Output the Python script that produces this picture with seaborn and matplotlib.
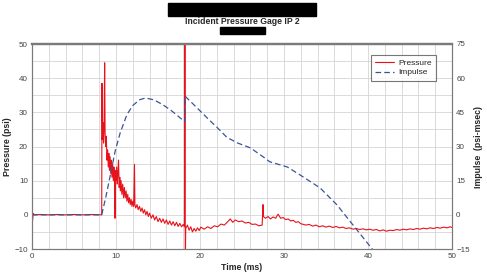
import matplotlib
matplotlib.use("Agg")
import matplotlib.pyplot as plt
import seaborn as sns
import pandas as pd
from matplotlib.patches import Rectangle
from matplotlib.ticker import MultipleLocator

# ---- data ----
time_p = [0.0, 0.05, 0.15, 0.3, 1.0, 2.0, 3.0, 4.0, 5.0, 6.0, 7.0, 8.0, 8.3,
          8.33, 8.38, 8.45, 8.52, 8.58, 8.65, 8.70, 8.78, 8.85, 8.92, 9.0, 9.08, 9.15,
          9.22, 9.3, 9.38, 9.45, 9.52, 9.6, 9.68, 9.75, 9.82, 9.88, 9.94, 10.0, 10.08,
          10.15, 10.22, 10.3, 10.38, 10.45, 10.52, 10.6, 10.7, 10.8, 10.9, 11.0, 11.1,
          11.2, 11.3, 11.4, 11.5, 11.6, 11.7, 11.8, 11.9, 12.0, 12.1, 12.2, 12.25, 12.35,
          12.5, 12.65, 12.8, 12.95, 13.1, 13.25, 13.4, 13.55, 13.7, 13.85, 14.0, 14.2,
          14.4, 14.6, 14.8, 15.0, 15.2, 15.4, 15.6, 15.8, 16.0, 16.2, 16.4, 16.6, 16.8,
          17.0, 17.2, 17.4, 17.6, 17.8, 18.0, 18.15, 18.2, 18.25, 18.3, 18.5, 18.7, 18.9,
          19.1, 19.3, 19.5, 19.7, 19.9, 20.1, 20.5, 20.9, 21.3, 21.7, 22.1, 22.5, 22.9,
          23.3, 23.6, 23.9, 24.2, 24.6, 25.0, 25.4, 25.8, 26.2, 26.6, 27.0, 27.4, 27.5,
          27.55, 27.8, 28.1, 28.4, 28.7, 29.0, 29.3, 29.6, 29.9, 30.2, 30.5, 30.8, 31.1,
          31.4, 31.7, 32.0, 32.3, 32.6, 33.0, 33.4, 33.8, 34.2, 34.6, 35.0, 35.4, 35.8,
          36.2, 36.6, 37.0, 37.4, 37.8, 38.2, 38.6, 39.0, 39.4, 39.8, 40.2, 40.6, 41.0,
          41.4, 41.8, 42.2, 42.6, 43.0, 43.4, 43.8, 44.2, 44.6, 45.0, 45.4, 45.8, 46.2,
          46.6, 47.0, 47.4, 47.8, 48.2, 48.6, 49.0, 49.4, 49.8, 50.0]
pressure = [0.0, -2.0, 0.4, 0.0, 0.1, 0.0, 0.1, 0.0, 0.1, 0.0, 0.1, 0.0, 0.0,
            38.5, 22, 27, 21, 26, 44.5, 24, 20, 23, 16, 19, 14, 18,
            13, 17, 12, 16, 11, 15, 10, 14, 11, -1, 13, 10, 14,
            9, 12, 16, 8, 11, 7, 10, 6, 9, 5, 8, 5,
            7, 4, 6, 3.5, 5, 3, 4.5, 2.5, 4, 2.5, 14.8, 3, 2,
            3, 1.5, 2.5, 1, 2, 0.5, 1.5, 0, 1, -0.5, 0.5, -1,
            0, -1.5, -0.5, -2, -1, -2.2, -1.2, -2.5, -1.5, -2.8, -1.8, -3, -2,
            -3.2, -2.2, -3.4, -2.5, -3.5, -2.8, -3.5, 60, -15, -4, -3, -4.5, -3.5,
            -5, -4, -4.8, -3.8, -4.6, -3.6, -4.2, -3.5, -4, -3.2, -3.5, -2.7, -3,
            -2, -1.2, -2.2, -1.5, -2, -1.8, -2.4, -2.2, -2.8, -2.7, -3.2, -3, 3,
            -0.5, -1, -0.5, -1.2, -0.6, -1, 0.2, -1, -0.8, -1.4, -1.2, -1.8, -1.6,
            -2.2, -2, -2.6, -2.8, -3, -2.8, -3.3, -3, -3.5, -3.2, -3.6, -3.3, -3.7,
            -3.4, -3.8, -3.6, -4, -3.8, -4.2, -4, -4.3, -4.1, -4.4, -4.2, -4.5, -4.3,
            -4.7, -4.4, -4.8, -4.5, -4.6, -4.3, -4.5, -4.2, -4.4, -4.1, -4.3, -4, -4.2,
            -3.9, -4.1, -3.8, -4, -3.7, -3.9, -3.6, -3.8, -3.5, -3.7]

time_i = [0.0, 8.3, 8.8, 9.3, 9.9, 10.5, 11.3, 12.0, 12.8, 13.5, 14.5, 15.5, 16.5,
          17.5, 18.2, 18.25, 19.5, 21.0, 22.0, 23.2, 24.5, 26.0, 27.5, 28.3, 30.4,
          32.3, 34.3, 36.3, 38.2, 40.5, 41.0]
impulse = [0.0, 0.0, 8, 17, 28, 36, 44, 48, 50.5, 51.3, 50.5, 48.5, 46,
           43, 40.8, 52, 47.5, 42, 38.5, 34, 31.5, 29.4, 25.5, 23.3, 21,
           16.6, 11.8, 4.4, -4.4, -15, -17]

title = "Incident Pressure Gage IP 2"

# ---- plot ----
sns.set_style("white")
plt.rcParams["font.family"] = ["Liberation Sans", "DejaVu Sans"]

fig = plt.figure(figsize=(4.87, 2.74), dpi=100)
ax = fig.add_axes([32/487, 25/274, 420/487, 205/274])
ax2 = ax.twinx()

df_p = pd.DataFrame({"t": time_p, "p": pressure})
df_i = pd.DataFrame({"t": time_i, "i": impulse})

sns.lineplot(data=df_p, x="t", y="p", ax=ax, color="#e8121b", linewidth=0.8,
             sort=False, estimator=None, label="Pressure", legend=False)
sns.lineplot(data=df_i, x="t", y="i", ax=ax2, color="#3a5597", linewidth=0.9,
             sort=False, estimator=None, label="Impulse", legend=False)
ax2.lines[0].set_dashes([4.5, 2.5])

ax.set_xlim(0, 50)
ax.set_ylim(-10, 50)
ax2.set_ylim(-15, 75)

ax.xaxis.set_major_locator(MultipleLocator(10))
ax.xaxis.set_minor_locator(MultipleLocator(2))
ax.yaxis.set_major_locator(MultipleLocator(10))
ax.yaxis.set_minor_locator(MultipleLocator(5))
ax2.yaxis.set_major_locator(MultipleLocator(15))

ax.grid(which="both", color="#d4d4d4", linewidth=0.6)
ax.set_axisbelow(True)
ax2.grid(False)

for a in (ax, ax2):
    for s in a.spines.values():
        s.set_color("#7a7a7a")
        s.set_linewidth(0.8)
    a.spines["top"].set_linewidth(1.6)
    a.tick_params(which="both", length=0, labelsize=5.8, labelcolor="#444444", pad=3)

ax.set_xlabel("Time (ms)", fontsize=6.3, fontweight="bold", labelpad=2)
ax.set_ylabel("Pressure (psi)", fontsize=6.3, fontweight="bold")
ax2.set_ylabel("Impulse  (psi-msec)", fontsize=6.3, fontweight="bold")
ax.yaxis.set_label_coords((12 - 32) / 420, 0.5)
ax2.yaxis.set_label_coords((474 - 32) / 420, 0.5)

h1 = ax.lines[0]
h2 = ax2.lines[0]
leg = ax2.legend([h1, h2], ["Pressure", "Impulse"], loc="upper left",
                 bbox_to_anchor=((371-32)/420, 1 - (55-44)/205), fontsize=6,
                 frameon=True, fancybox=False, handlelength=2.2, borderpad=0.5,
                 labelspacing=0.2, handletextpad=0.6, borderaxespad=0)
leg.get_frame().set_edgecolor("#555555")
leg.get_frame().set_linewidth(0.8)

fig.text(242/487, 1 - 21/274, title, ha="center", va="center",
         fontsize=6.2, fontweight="bold")
fig.patches.append(Rectangle((168/487, 1 - 16/274), 148/487, 13/274,
                             transform=fig.transFigure, color="black"))
fig.patches.append(Rectangle((220/487, 1 - 34/274), 45/487, 7/274,
                             transform=fig.transFigure, color="black"))

fig.savefig("out.png", dpi=100)
